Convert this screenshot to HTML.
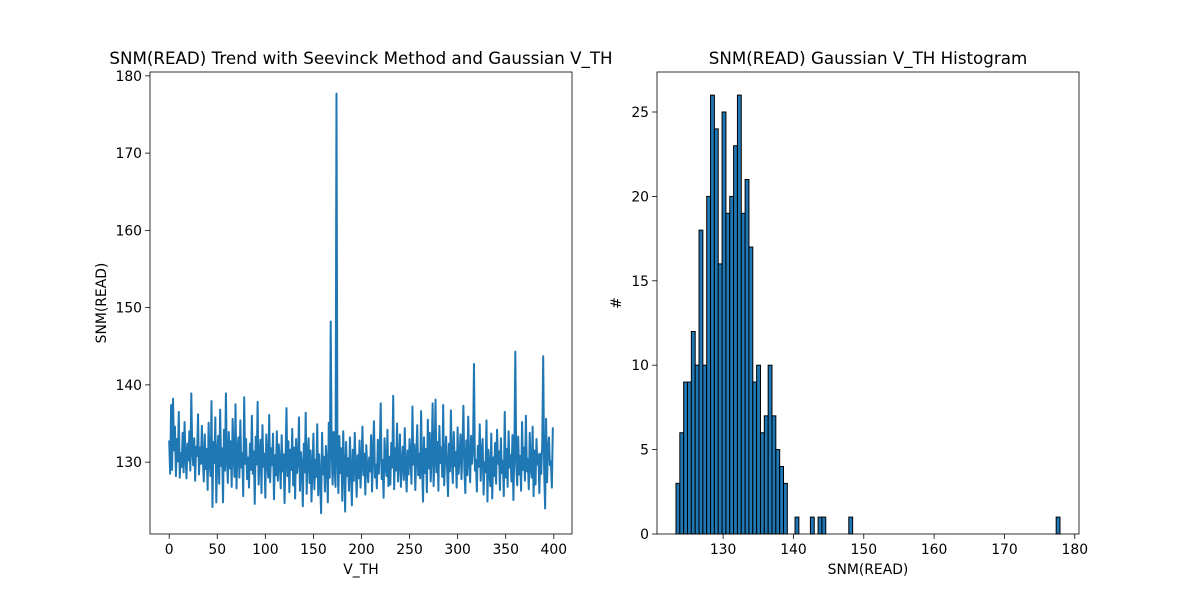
<!DOCTYPE html>
<html><head><meta charset="utf-8"><style>
body{margin:0;background:#fff;}
svg{display:block;font-family:"DejaVu Sans","Liberation Sans",sans-serif;}
</style></head><body>
<svg id="fig" width="1200" height="600" viewBox="0 0 1200 600">
<rect x="0" y="0" width="1200" height="600" fill="#fff"/>
<g id="left"></g>
<g id="right"></g>
</svg>
<script>
// Trend series (V_TH index 0..399)
const snmValues = [
132.8,128.5,137.4,129.0,138.2,131.5,134.6,128.2,133.0,130.1,
136.5,128.0,131.2,129.4,133.8,128.7,135.2,130.6,127.9,132.4,
130.2,134.0,128.9,138.9,131.3,129.6,133.1,127.6,132.0,130.8,
136.2,128.4,131.9,129.8,134.7,130.3,127.5,133.6,129.1,131.7,
126.4,135.1,130.0,128.2,137.9,124.2,132.6,129.9,135.8,124.8,
131.0,133.4,127.2,136.8,129.5,131.8,124.8,134.2,128.9,138.9,
130.4,127.3,133.9,129.2,132.7,126.8,135.6,130.9,128.1,137.5,
126.6,131.6,133.2,128.0,135.4,129.3,131.2,125.6,138.4,129.8,
133.0,127.8,130.6,126.7,132.4,129.0,136.0,128.5,131.4,124.6,
133.3,129.7,137.8,127.1,130.5,132.9,126.0,134.8,129.4,131.1,
125.4,133.6,130.2,128.0,136.1,127.4,131.8,129.6,133.7,125.2,
130.9,128.3,134.0,127.6,132.3,129.9,126.6,133.5,128.8,131.0,
124.7,130.4,137.0,128.2,132.7,126.1,131.6,129.0,134.3,127.0,
131.9,125.3,133.0,128.6,130.1,135.8,126.3,131.3,129.5,124.3,
132.4,128.7,136.4,125.9,130.8,133.1,127.3,131.5,124.9,129.2,
133.7,126.5,130.3,128.1,134.9,125.7,131.0,127.8,123.4,133.8,
128.4,130.7,126.2,132.1,129.6,124.8,135.1,128.0,148.2,131.4,
127.1,133.9,129.2,126.8,177.7,130.2,126.0,133.4,128.6,131.8,
125.0,134.0,129.4,123.6,132.6,128.2,130.5,126.3,133.2,129.0,
124.4,131.6,127.6,133.8,129.3,125.5,130.9,127.9,132.8,126.7,
129.8,134.6,128.3,131.1,125.8,132.2,129.0,127.4,130.6,128.8,
133.5,126.2,131.2,135.3,128.0,129.7,126.6,132.9,128.5,131.4,
137.6,127.8,130.3,125.4,133.1,129.5,128.2,134.2,126.9,130.7,
127.1,132.5,129.3,138.6,126.5,131.8,128.9,135.0,127.5,130.1,
133.6,126.8,129.9,132.0,127.7,134.4,129.1,126.2,131.5,128.4,
133.0,130.6,127.2,137.2,129.7,132.3,126.4,130.9,134.8,128.3,
131.1,127.9,136.6,129.6,124.9,133.2,128.6,131.7,126.1,135.5,
129.2,133.8,127.5,131.0,137.6,126.9,130.4,138.1,128.7,132.6,
126.3,134.7,129.9,131.9,128.1,137.4,127.0,130.8,133.3,129.4,
125.6,132.4,128.8,136.7,130.1,127.3,133.9,129.5,131.3,126.7,
134.5,128.5,130.7,133.6,127.8,131.9,137.3,129.1,126.0,132.8,
128.3,135.9,130.5,127.4,133.4,129.8,131.5,142.7,128.9,130.3,
126.2,132.1,129.4,134.9,127.6,131.2,133.0,125.8,130.0,128.7,
135.4,124.9,131.6,129.0,126.9,133.7,125.3,130.6,128.2,132.5,
127.2,134.2,129.8,131.4,126.4,133.1,128.6,130.2,125.6,136.5,
128.0,131.7,126.8,134.0,129.3,130.9,127.5,133.5,125.1,131.3,
144.3,129.5,127.0,133.3,128.4,130.8,126.3,135.2,129.0,131.9,
127.6,136.0,128.8,130.4,126.5,133.8,129.2,128.0,134.6,125.6,
131.5,127.1,133.0,129.7,131.0,126.0,131.1,128.5,132.4,143.7,
128.9,124.0,135.6,127.4,131.8,133.2,129.6,130.1,126.7,134.5
];
// Histogram of SNM(READ): 100 bins over [binMin, binMax]
const binMin = 123.3;
const binMax = 177.9;
const histCounts = [
3,6,9,9,12,10,18,10,20,26,24,16,25,19,20,23,26,19,21,17,
9,10,6,7,10,7,5,4,3,0,0,1,0,0,0,1,0,1,1,0,
0,0,0,0,0,1,0,0,0,0,0,0,0,0,0,0,0,0,0,0,
0,0,0,0,0,0,0,0,0,0,0,0,0,0,0,0,0,0,0,0,
0,0,0,0,0,0,0,0,0,0,0,0,0,0,0,0,0,0,0,1
];
const leftXTicks = [0,50,100,150,200,250,300,350,400];
const leftYTicks = [130,140,150,160,170,180];
const rightXTicks = [130,140,150,160,170,180];
const rightYTicks = [0,5,10,15,20,25];

const NS='http://www.w3.org/2000/svg';
function mk(parent,tag,attrs){const e=document.createElementNS(NS,tag);for(const k in attrs)e.setAttribute(k,attrs[k]);parent.appendChild(e);return e;}
function txt(parent,x,y,s,size,anchor,extra){const t=mk(parent,'text',Object.assign({x:x,y:y,'font-size':size,'text-anchor':anchor,fill:'#000'},extra||{}));t.textContent=s;return t;}
const TK=13.9, TT=16.7;

// ---- Left chart
const L={x0:150,x1:572,y0:72,y1:534,xmin:-19.95,xmax:418.95,ymin:120.7,ymax:180.5};
const lx=v=>L.x0+(v-L.xmin)/(L.xmax-L.xmin)*(L.x1-L.x0);
const ly=v=>L.y1-(v-L.ymin)/(L.ymax-L.ymin)*(L.y1-L.y0);
const lg=document.getElementById('left');
let d='';
snmValues.forEach((v,i)=>{d+=(i?'L':'M')+lx(i).toFixed(2)+','+ly(v).toFixed(2);});
const line=mk(lg,'path',{d:d,fill:'none',stroke:'#1f77b4','stroke-width':2,'stroke-linejoin':'round'});


const lf=mk(lg,'rect',{x:L.x0,y:L.y0,width:L.x1-L.x0,height:L.y1-L.y0,fill:'none',stroke:'#000','stroke-width':0.8});


leftXTicks.forEach(t=>{const x=lx(t);mk(lg,'line',{x1:x,x2:x,y1:L.y1,y2:L.y1+4.9,stroke:'#000','stroke-width':0.8});
 const e=txt(lg,x,L.y1+20,String(t),TK,'middle');});
leftYTicks.forEach(t=>{const y=ly(t);mk(lg,'line',{x1:L.x0-4.9,x2:L.x0,y1:y,y2:y,stroke:'#000','stroke-width':0.8});
 const e=txt(lg,L.x0-8,y+5,String(t),TK,'end');});
let e=txt(lg,361,64,'SNM(READ) Trend with Seevinck Method and Gaussian V_TH',TT,'middle');

e=txt(lg,361,574,'V_TH',TK,'middle');

e=txt(lg,0,0,'SNM(READ)',TK,'middle',{transform:'translate(106,303) rotate(-90)'});


// ---- Right chart
const R={x0:657,x1:1079,y0:72,y1:534,xmin:120.6,xmax:180.6,ymin:0,ymax:27.37};
const rx=v=>R.x0+(v-R.xmin)/(R.xmax-R.xmin)*(R.x1-R.x0);
const ry=v=>R.y1-(v-R.ymin)/(R.ymax-R.ymin)*(R.y1-R.y0);
const rg=document.getElementById('right');
const bw=(binMax-binMin)/histCounts.length;
histCounts.forEach((c,i)=>{if(!c)return;const a=rx(binMin+i*bw),b=rx(binMin+(i+1)*bw);
 const r=mk(rg,'rect',{x:a,y:ry(c),width:b-a,height:ry(0)-ry(c),fill:'#1f77b4',stroke:'#000','stroke-width':1});
 
 });
const rf=mk(rg,'rect',{x:R.x0,y:R.y0,width:R.x1-R.x0,height:R.y1-R.y0,fill:'none',stroke:'#000','stroke-width':0.8});


rightXTicks.forEach(t=>{const x=rx(t);mk(rg,'line',{x1:x,x2:x,y1:R.y1,y2:R.y1+4.9,stroke:'#000','stroke-width':0.8});
 const e=txt(rg,x,R.y1+20,String(t),TK,'middle');});
rightYTicks.forEach(t=>{const y=ry(t);mk(rg,'line',{x1:R.x0-4.9,x2:R.x0,y1:y,y2:y,stroke:'#000','stroke-width':0.8});
 const e=txt(rg,R.x0-8,y+5,String(t),TK,'end');});
e=txt(rg,868,64,'SNM(READ) Gaussian V_TH Histogram',TT,'middle');

e=txt(rg,868,574,'SNM(READ)',TK,'middle');

e=txt(rg,0,0,'#',TK,'middle',{transform:'translate(621,303) rotate(-90)'});

</script>
</body></html>
